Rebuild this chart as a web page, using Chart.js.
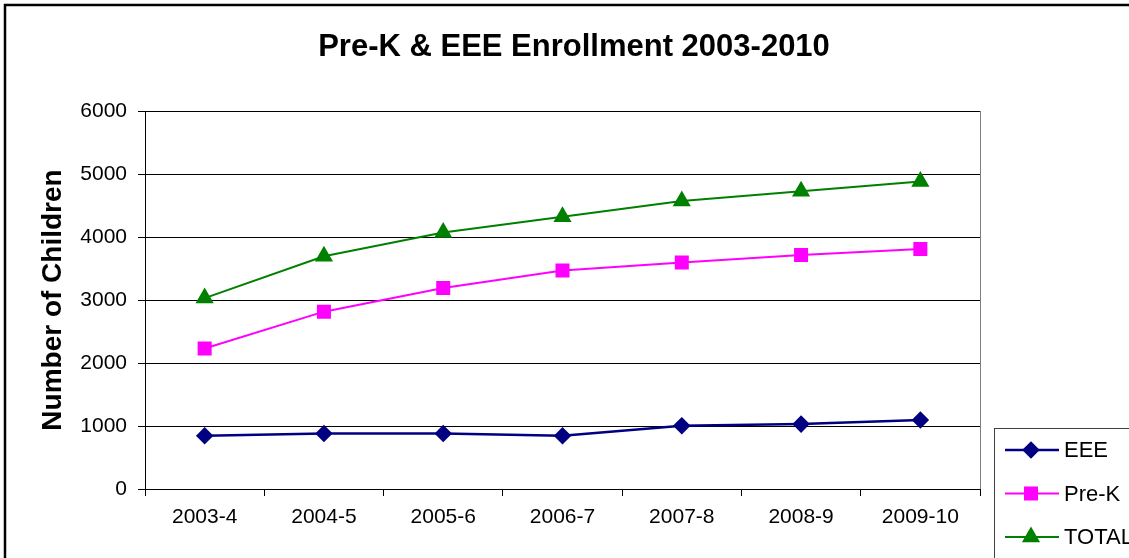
<!DOCTYPE html>
<html>
<head>
<meta charset="utf-8">
<script src="https://cdn.jsdelivr.net/npm/chart.js@4"></script>
<style>
    html, body { margin: 0; padding: 0; background: #fff; }
    #wrap { position: relative; width: 1129px; height: 558px; }
</style>
</head>
<body>
<div id="wrap"><canvas id="enrollChart"></canvas></div>
<script>
// Chart data
const categories = ['2003-4', '2004-5', '2005-6', '2006-7', '2007-8', '2008-9', '2009-10'];
const eeeValues = [845, 880, 880, 845, 1005, 1030, 1095];
const preKValues = [2230, 2815, 3190, 3470, 3595, 3715, 3810];
const totalValues = [3030, 3695, 4070, 4320, 4570, 4725, 4880];
const yTicks = [0, 1000, 2000, 3000, 4000, 5000, 6000];

const chartTitle = 'Pre-K & EEE Enrollment 2003-2010';
const yAxisTitle = 'Number of Children';
const fontFamily = '"Liberation Sans", Arial, sans-serif';

// Title, outer frame, plot border and legend box
const decorPlugin = {
    id: 'decor',
    beforeDraw(chart) {
        const ctx = chart.ctx;
        const a = chart.chartArea;
        ctx.save();
        ctx.strokeStyle = '#808080';
        ctx.lineWidth = 1;
        ctx.strokeRect(a.left + 0.5, a.top + 0.5, a.right - a.left, a.bottom - a.top);
        ctx.restore();
    },
    afterDraw(chart) {
        const ctx = chart.ctx;
        ctx.save();
        // outer frame
        ctx.strokeStyle = '#000';
        ctx.lineWidth = 2.5;
        ctx.strokeRect(5, 5, 1400, 900);

        // title
        ctx.fillStyle = '#000';
        ctx.font = 'bold 31px ' + fontFamily;
        ctx.textAlign = 'center';
        ctx.textBaseline = 'middle';
        ctx.fillText(chartTitle, 574, 47);

        // legend
        ctx.fillStyle = '#fff';
        ctx.fillRect(994, 428, 200, 200);
        ctx.strokeStyle = '#404040';
        ctx.lineWidth = 1;
        ctx.strokeRect(994.5, 428.5, 200, 200);
        ctx.font = '22px ' + fontFamily;
        ctx.textAlign = 'left';
        chart.data.datasets.forEach((ds, i) => {
            const y = 450 + i * 43.5;
            ctx.strokeStyle = ds.borderColor;
            ctx.lineWidth = ds.borderWidth;
            ctx.beginPath();
            ctx.moveTo(1005, y);
            ctx.lineTo(1059, y);
            ctx.stroke();
            ctx.fillStyle = ds.pointBackgroundColor;
            ctx.strokeStyle = ds.borderColor;
            Chart.helpers.drawPoint(ctx, {
                pointStyle: ds.pointStyle,
                radius: ds.pointRadius,
                rotation: 0,
                borderWidth: 1
            }, 1031, y);
            ctx.fillStyle = '#000';
            ctx.fillText(ds.label, 1064, y + 1);
        });
        ctx.restore();
    }
};

document.addEventListener('DOMContentLoaded', function() {
    const ctx = document.getElementById('enrollChart').getContext('2d');

    new Chart(ctx, {
        type: 'line',
        data: {
            labels: categories,
            datasets: [{
                label: 'EEE',
                data: eeeValues,
                borderColor: '#000080',
                pointBackgroundColor: '#000080',
                borderWidth: 2.5,
                pointStyle: 'rectRot',
                pointRadius: 7
            }, {
                label: 'Pre-K',
                data: preKValues,
                borderColor: '#FF00FF',
                pointBackgroundColor: '#FF00FF',
                borderWidth: 2,
                pointStyle: 'rect',
                pointRadius: 8.5
            }, {
                label: 'TOTAL',
                data: totalValues,
                borderColor: '#008000',
                pointBackgroundColor: '#008000',
                borderWidth: 2,
                pointStyle: 'triangle',
                pointRadius: 8.5
            }]
        },
        options: {
            responsive: true,
            maintainAspectRatio: false,
            animation: false,
            layout: {
                padding: { top: 111, right: 149, bottom: 0, left: 0 }
            },
            plugins: {
                legend: { display: false },
                title: { display: false },
                tooltip: { enabled: false }
            },
            elements: {
                line: { tension: 0 },
                point: { borderWidth: 1 }
            },
            scales: {
                x: {
                    offset: true,
                    afterFit: function(scale) { scale.height = 69; },
                    grid: {
                        offset: true,
                        drawOnChartArea: false,
                        color: '#000',
                        tickLength: 7
                    },
                    border: { color: '#000', width: 1 },
                    ticks: {
                        color: '#000',
                        padding: 9,
                        maxRotation: 0,
                        font: { family: fontFamily, size: 21 }
                    }
                },
                y: {
                    min: 0,
                    max: 6000,
                    afterFit: function(scale) { scale.width = 145; },
                    afterBuildTicks: function(scale) {
                        scale.ticks = yTicks.map(v => ({ value: v }));
                    },
                    grid: {
                        color: '#000',
                        tickLength: 7
                    },
                    border: { color: '#000', width: 1 },
                    ticks: {
                        color: '#000',
                        padding: 11,
                        font: { family: fontFamily, size: 21 },
                        callback: function(value) { return String(value); }
                    },
                    title: {
                        display: true,
                        text: yAxisTitle,
                        color: '#000',
                        padding: { top: 36, bottom: 0 },
                        font: { family: fontFamily, size: 28, weight: 'bold' }
                    }
                }
            }
        },
        plugins: [decorPlugin]
    });
});
</script>
</body>
</html>
